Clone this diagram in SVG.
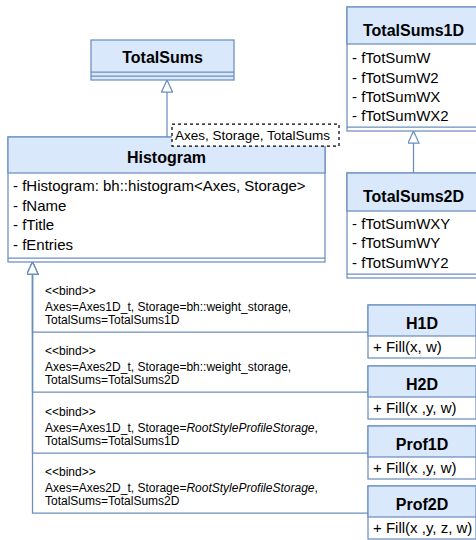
<svg xmlns="http://www.w3.org/2000/svg" width="476" height="540" viewBox="0 0 476 540">
  <style>
    .hdr { fill: #dae8fc; stroke: #6c8ebf; stroke-width: 1.25; }
    .body { fill: #ffffff; stroke: #6c8ebf; stroke-width: 1.25; }
    .sep { stroke: #6c8ebf; stroke-width: 1.25; fill: none; }
    .title { font-family: "Liberation Sans", Arial, sans-serif; font-size: 16px; font-weight: bold; fill: #000; text-anchor: middle; }
    .attr { font-family: "Liberation Sans", Arial, sans-serif; font-size: 15px; fill: #000; }
    .bind { font-family: "Liberation Sans", Arial, sans-serif; font-size: 12px; fill: #000; }
    .tparam { font-family: "Liberation Sans", Arial, sans-serif; font-size: 13.5px; fill: #000; }
    .edge { fill: none; stroke: #6c8ebf; stroke-width: 1.25; marker-end: url(#inherit); }
  </style>
  <defs>
    <!-- hollow triangle for generalization -->
    <marker id="inherit" viewBox="0 0 13 12" refX="12.5" refY="6" markerWidth="13" markerHeight="12" markerUnits="userSpaceOnUse" orient="auto">
      <path d="M0.5,0.5 L12.5,6 L0.5,11.5 Z" fill="#ffffff" stroke="#6c8ebf" stroke-width="1.25"/>
    </marker>
  </defs>

  <!-- generalization / bind connectors -->
  <g id="connectors">
    <path class="edge" d="M167,137 V80"/>
    <path class="edge" d="M413.5,173 V131"/>
    <path class="edge" d="M368,332 H32.5 V262"/>
    <path class="edge" d="M368,392 H32.5 V262"/>
    <path class="edge" d="M368,453 H32.5 V262"/>
    <path class="edge" d="M368,513 H32.5 V262"/>

    <text class="bind" x="45" y="295">&lt;&lt;bind&gt;&gt;</text>
    <text class="bind" x="45" y="311">Axes=Axes1D_t, Storage=bh::weight_storage,</text>
    <text class="bind" x="45" y="324">TotalSums=TotalSums1D</text>

    <text class="bind" x="45" y="355">&lt;&lt;bind&gt;&gt;</text>
    <text class="bind" x="45" y="371">Axes=Axes2D_t, Storage=bh::weight_storage,</text>
    <text class="bind" x="45" y="384">TotalSums=TotalSums2D</text>

    <text class="bind" x="45" y="416">&lt;&lt;bind&gt;&gt;</text>
    <text class="bind" x="45" y="432">Axes=Axes1D_t, Storage=<tspan font-style="italic">RootStyleProfileStorage</tspan>,</text>
    <text class="bind" x="45" y="445">TotalSums=TotalSums1D</text>

    <text class="bind" x="45" y="476">&lt;&lt;bind&gt;&gt;</text>
    <text class="bind" x="45" y="492">Axes=Axes2D_t, Storage=<tspan font-style="italic">RootStyleProfileStorage</tspan>,</text>
    <text class="bind" x="45" y="505">TotalSums=TotalSums2D</text>
  </g>

  <!-- TotalSums -->
  <g id="TotalSums">
    <rect class="hdr" x="91" y="40" width="143" height="40"/>
    <line class="sep" x1="91" y1="72" x2="234" y2="72"/>
    <line class="sep" x1="91" y1="76" x2="234" y2="76"/>
    <text class="title" x="162.5" y="63">TotalSums</text>
  </g>

  <!-- Histogram -->
  <g id="Histogram">
    <rect class="body" x="8" y="137" width="317" height="125"/>
    <rect class="hdr" x="8" y="137" width="317" height="36"/>
    <line class="sep" x1="8" y1="258" x2="325" y2="258"/>
    <text class="title" x="166.5" y="163">Histogram</text>
    <text class="attr" x="13" y="191">- fHistogram: bh::histogram&lt;Axes, Storage&gt;</text>
    <text class="attr" x="13" y="211">- fName</text>
    <text class="attr" x="13" y="230">- fTitle</text>
    <text class="attr" x="13" y="250">- fEntries</text>
  </g>

  <!-- template parameter box -->
  <g id="HistogramParams">
    <rect x="172" y="124" width="167" height="22" fill="#ffffff" stroke="#000000" stroke-width="1.25" stroke-dasharray="3,3"/>
    <text class="tparam" x="175" y="140">Axes, Storage, TotalSums</text>
  </g>

  <!-- TotalSums1D -->
  <g id="TotalSums1D">
    <rect class="body" x="347" y="7" width="133" height="124"/>
    <rect class="hdr" x="347" y="7" width="133" height="37"/>
    <line class="sep" x1="347" y1="127" x2="480" y2="127"/>
    <text class="title" x="413.5" y="36">TotalSums1D</text>
    <text class="attr" x="352" y="63">- fTotSumW</text>
    <text class="attr" x="352" y="83">- fTotSumW2</text>
    <text class="attr" x="352" y="102">- fTotSumWX</text>
    <text class="attr" x="352" y="121">- fTotSumWX2</text>
  </g>

  <!-- TotalSums2D -->
  <g id="TotalSums2D">
    <rect class="body" x="347" y="173" width="133" height="105"/>
    <rect class="hdr" x="347" y="173" width="133" height="38"/>
    <line class="sep" x1="347" y1="274" x2="480" y2="274"/>
    <text class="title" x="413.5" y="202">TotalSums2D</text>
    <text class="attr" x="352" y="229">- fTotSumWXY</text>
    <text class="attr" x="352" y="248">- fTotSumWY</text>
    <text class="attr" x="352" y="268">- fTotSumWY2</text>
  </g>

  <!-- H1D -->
  <g id="H1D">
    <rect class="body" x="368" y="305" width="108" height="53"/>
    <rect class="hdr" x="368" y="305" width="108" height="31"/>
    <text class="title" x="422" y="329">H1D</text>
    <text class="attr" x="373" y="352">+ Fill(x, w)</text>
  </g>

  <!-- H2D -->
  <g id="H2D">
    <rect class="body" x="368" y="366" width="108" height="53"/>
    <rect class="hdr" x="368" y="366" width="108" height="31"/>
    <text class="title" x="422" y="390">H2D</text>
    <text class="attr" x="373" y="413">+ Fill(x ,y, w)</text>
  </g>

  <!-- Prof1D -->
  <g id="Prof1D">
    <rect class="body" x="368" y="426" width="108" height="53"/>
    <rect class="hdr" x="368" y="426" width="108" height="31"/>
    <text class="title" x="422" y="450">Prof1D</text>
    <text class="attr" x="373" y="473">+ Fill(x ,y, w)</text>
  </g>

  <!-- Prof2D -->
  <g id="Prof2D">
    <rect class="body" x="368" y="486" width="108" height="53"/>
    <rect class="hdr" x="368" y="486" width="108" height="31"/>
    <text class="title" x="422" y="510">Prof2D</text>
    <text class="attr" x="373" y="533">+ Fill(x ,y, z, w)</text>
  </g>
</svg>
